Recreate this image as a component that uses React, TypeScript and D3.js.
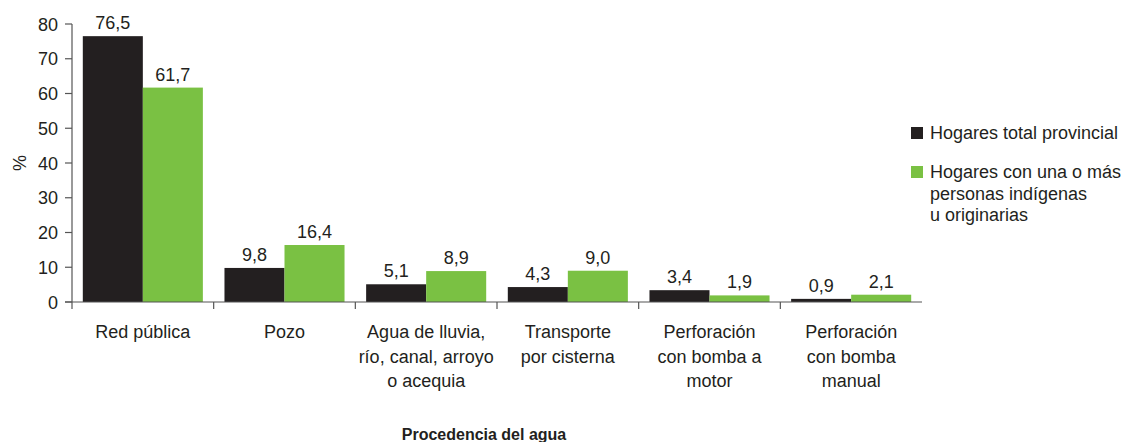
import React from "react";
import * as d3 from "d3";

const categories = [
  ["Red pública"],
  ["Pozo"],
  ["Agua de lluvia,", "río, canal, arroyo", "o acequia"],
  ["Transporte", "por cisterna"],
  ["Perforación", "con bomba a", "motor"],
  ["Perforación", "con bomba", "manual"],
];
const totalProvincial = [76.5, 9.8, 5.1, 4.3, 3.4, 0.9];
const indigenas = [61.7, 16.4, 8.9, 9.0, 1.9, 2.1];
const seriesNames = ["Hogares total provincial", "Hogares con una o más personas indígenas u originarias"];
const legendLines = [["Hogares total provincial"], ["Hogares con una o más", "personas indígenas", "u originarias"]];
const yTicks = [0, 10, 20, 30, 40, 50, 60, 70, 80];

const colors = ["#231f20", "#7ac143"];
const textColor = "#231f20";
const font = "'Liberation Sans', Arial, sans-serif";
const fs = 18;

const App = () => {
  const width = 1130;
  const height = 442;
  const left = 72, right = 922, top = 24, bottom = 302;

  const x0 = d3.scaleBand<number>().domain(d3.range(categories.length)).range([left, right]).padding(0);
  const x1 = d3.scaleBand<number>().domain([0, 1]).range([0, x0.bandwidth()]).paddingInner(0).paddingOuter(0.18);
  const y = d3.scaleLinear().domain([0, 80]).range([bottom, top]);

  const data = [totalProvincial, indigenas];
  const fmt = (v: number) => d3.format(".1f")(v).replace(".", ",");

  return (
    <div style={{ position: "absolute", left: 0, top: 0 }}>
      <svg width={width} height={height} style={{ display: "block" }} fontFamily={font}>
        <rect width={width} height={height} fill="#fff" />
        {/* bars */}
        {categories.map((_, i) =>
          data.map((s, k) => {
            const bx = x0(i)! + x1(k)!;
            return (
              <g key={`${i}-${k}`}>
                <rect x={bx} y={y(s[i])} width={x1.bandwidth()} height={bottom - y(s[i])} fill={colors[k]} />
                <text x={bx + x1.bandwidth() / 2} y={y(s[i]) - 7} textAnchor="middle" fontSize={fs} fill={textColor}>
                  {fmt(s[i])}
                </text>
              </g>
            );
          })
        )}
        {/* y axis */}
        <line x1={left} x2={left} y1={top} y2={bottom} stroke="#555" strokeWidth={1.2} />
        {yTicks.map((t) => (
          <g key={t}>
            <line x1={left - 7} x2={left} y1={y(t)} y2={y(t)} stroke="#555" strokeWidth={1.2} />
            <text x={left - 14} y={y(t) + 6.5} textAnchor="end" fontSize={fs} fill={textColor}>{t}</text>
          </g>
        ))}
        <text transform={`translate(26,163) rotate(-90)`} textAnchor="middle" fontSize={fs} fill={textColor}>%</text>
        {/* x axis */}
        <line x1={left - 7} x2={right} y1={bottom} y2={bottom} stroke="#555" strokeWidth={1.2} />
        {d3.range(categories.length).map((i) => (
          <line key={i} x1={x0(i)!} x2={x0(i)!} y1={bottom} y2={bottom + 7} stroke="#555" strokeWidth={1.2} />
        ))}
        {categories.map((lines, i) => (
          <text key={i} x={x0(i)! + x0.bandwidth() / 2} textAnchor="middle" fontSize={fs} fill={textColor}>
            {lines.map((l, j) => (
              <tspan key={j} x={x0(i)! + x0.bandwidth() / 2} y={338 + j * 24.5}>{l}</tspan>
            ))}
          </text>
        ))}
        <text x={484} y={440} textAnchor="middle" fontSize={16} fontWeight="bold" fill={textColor}>Procedencia del agua</text>
        {/* legend */}
        {seriesNames.map((name, k) => {
          const ly = k === 0 ? 139 : 178;
          return (
            <g key={name}>
              <rect x={911} y={ly - 12} width={12} height={12} fill={colors[k]} />
              <text fontSize={fs} fill={textColor}>
                {legendLines[k].map((l, j) => (
                  <tspan key={j} x={930} y={ly + j * 21.5}>{l}</tspan>
                ))}
              </text>
            </g>
          );
        })}
      </svg>
    </div>
  );
};

export default App;
